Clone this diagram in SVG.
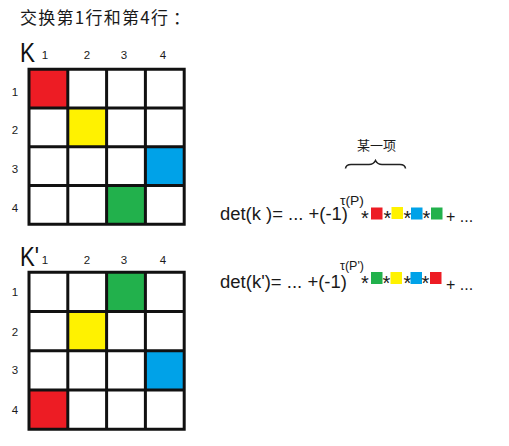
<svg xmlns="http://www.w3.org/2000/svg" width="509" height="446" viewBox="0 0 509 446">
<style>
.t{font-family:"Liberation Sans",Arial,sans-serif;fill:#1a1a1a}
.cn{font-family:"Noto Sans CJK SC","Noto Sans",sans-serif;fill:#1a1a1a}
.num{font-family:"Liberation Sans",Arial,sans-serif;font-size:11.5px;fill:#1a1a1a;text-anchor:middle}
.big{font-family:"Liberation Sans",Arial,sans-serif;font-size:27px;fill:#111}
.grid{fill:none;stroke:#111;stroke-width:3}
.r{fill:#ED1C24}.y{fill:#FFF200}.b{fill:#00A2E8}.g{fill:#22B14C}
.ast{font-family:"Liberation Sans",Arial,sans-serif;font-size:20px;fill:#1a1a1a;text-anchor:middle}
</style>
<rect width="509" height="446" fill="#fff"/>
<text class="cn" x="20" y="24" font-size="17"><tspan textLength="148" lengthAdjust="spacing">交换第1行和第4行</tspan><tspan x="173">：</tspan></text>

<g id="matrixK">
<text class="big" x="20" y="62" textLength="15" lengthAdjust="spacingAndGlyphs">K</text>
<text class="num" x="45" y="59">1</text><text class="num" x="87" y="59">2</text><text class="num" x="124" y="59">3</text><text class="num" x="163" y="59">4</text>
<text class="num" x="15" y="96">1</text><text class="num" x="15" y="134">2</text><text class="num" x="15" y="173">3</text><text class="num" x="15" y="212">4</text>
<rect class="r" x="29" y="69.2" width="38.8" height="38.75"/>
<rect class="y" x="67.8" y="107.95" width="38.8" height="38.75"/>
<rect class="b" x="145.4" y="146.7" width="38.8" height="38.75"/>
<rect class="g" x="106.6" y="185.45" width="38.8" height="38.75"/>
<path class="grid" d="M29,69.2H184.2V224.2H29Z M67.8,69.2V224.2 M106.6,69.2V224.2 M145.4,69.2V224.2 M29,107.95H184.2 M29,146.7H184.2 M29,185.45H184.2"/>
</g>

<g id="matrixK2">
<text class="big" x="20" y="266" textLength="19" lengthAdjust="spacingAndGlyphs">K'</text>
<text class="num" x="45" y="264">1</text><text class="num" x="87" y="264">2</text><text class="num" x="124" y="264">3</text><text class="num" x="163" y="264">4</text>
<text class="num" x="15" y="296">1</text><text class="num" x="15" y="336">2</text><text class="num" x="15" y="374">3</text><text class="num" x="15" y="414">4</text>
<rect class="g" x="106.6" y="272.2" width="38.8" height="39.25"/>
<rect class="y" x="67.8" y="311.45" width="38.8" height="39.25"/>
<rect class="b" x="145.4" y="350.7" width="38.8" height="39.25"/>
<rect class="r" x="29" y="389.95" width="38.8" height="39.25"/>
<path class="grid" d="M29,272.2H184.2V429.2H29Z M67.8,272.2V429.2 M106.6,272.2V429.2 M145.4,272.2V429.2 M29,311.45H184.2 M29,350.7H184.2 M29,389.95H184.2"/>
</g>

<g id="term-label">
<text class="cn" x="376.5" y="150" font-size="13" text-anchor="middle">某一项</text>
<path d="M345.5,168.5 Q346,164.5 351,164.5 L369,164.5 Q373.5,164.5 375.5,160.5 Q377.5,164.5 382,164.5 L400,164.5 Q405,164.5 405.5,168.5" fill="none" stroke="#222" stroke-width="1.6"/>
</g>

<g id="detK">
<text class="t" x="220" y="220" font-size="18" textLength="128" lengthAdjust="spacingAndGlyphs">det(k )= ... +(-1)</text>
<text class="t" x="340" y="205" font-size="12" textLength="24" lengthAdjust="spacingAndGlyphs">τ(P)</text>
<text class="ast" x="365" y="225">*</text>
<rect class="r" x="371" y="207.5" width="11.5" height="12"/>
<text class="ast" x="387.5" y="225">*</text>
<rect class="y" x="391.5" y="207" width="11.5" height="12"/>
<text class="ast" x="407.5" y="225">*</text>
<rect class="b" x="411" y="207.5" width="11.5" height="12"/>
<text class="ast" x="426.5" y="225">*</text>
<rect class="g" x="431" y="207.5" width="11.5" height="12"/>
<text class="t" x="446" y="222" font-size="16">+ ...</text>
</g>

<g id="detK2">
<text class="t" x="220" y="288" font-size="18" textLength="127" lengthAdjust="spacingAndGlyphs">det(k')= ... +(-1)</text>
<text class="t" x="340" y="270" font-size="12" textLength="24" lengthAdjust="spacingAndGlyphs">τ(P')</text>
<text class="ast" x="365" y="290">*</text>
<rect class="g" x="371" y="272" width="11.5" height="12"/>
<text class="ast" x="386.5" y="290">*</text>
<rect class="y" x="390.5" y="272" width="11.5" height="12"/>
<text class="ast" x="407.5" y="290">*</text>
<rect class="b" x="410.5" y="272" width="11.5" height="12"/>
<text class="ast" x="425.5" y="290">*</text>
<rect class="r" x="430" y="272" width="11.5" height="12"/>
<text class="t" x="446" y="290" font-size="16">+ ...</text>
</g>
</svg>
